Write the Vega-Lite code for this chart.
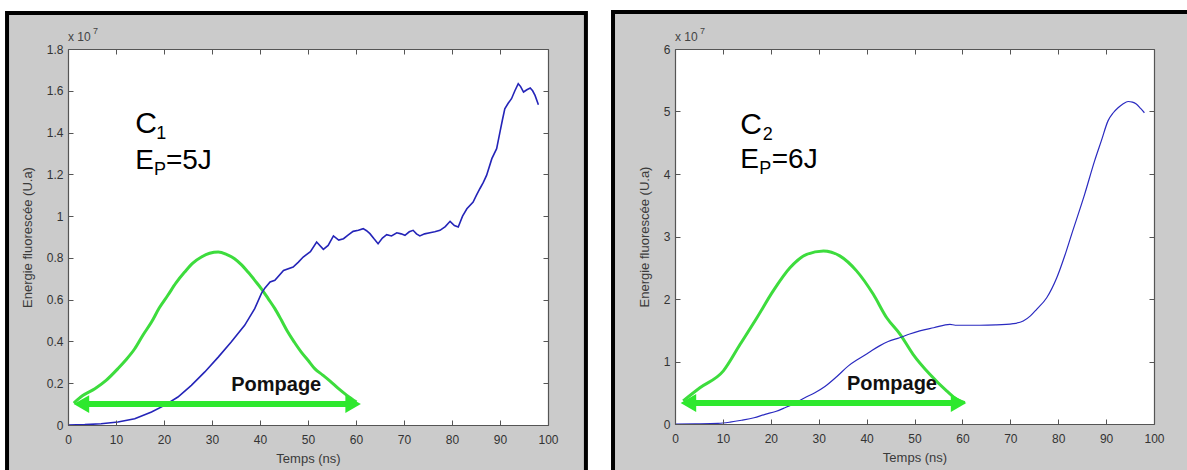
{
  "$schema": "https://vega.github.io/schema/vega-lite/v6.json",
  "background": "white",
  "padding": {"left": 5, "top": 9, "right": 0, "bottom": 0},
  "spacing": 23,
  "config": {
    "font": "Liberation Sans",
    "view": {"stroke": null},
    "axis": {
      "grid": false,
      "tickSize": -5,
      "domainColor": "#555555",
      "tickColor": "#555555",
      "domainWidth": 1.2,
      "labelFont": "Liberation Sans",
      "labelFontSize": 12,
      "labelColor": "#333333",
      "titleFont": "Liberation Sans",
      "titleFontSize": 13,
      "titleFontWeight": "normal",
      "titleColor": "#3a3a3a",
      "labelFlush": false,
      "labelOverlap": false
    }
  },
  "datasets": {
    "one": [{"k": 1}],
    "blue1": [
      {"t":0,"v":0},{"t":3.5,"v":0.002},{"t":6.9,"v":0.006},{"t":10.4,"v":0.014},{"t":13.9,"v":0.03},{"t":17.4,"v":0.062},{"t":20.1,"v":0.094},{"t":22.9,"v":0.134},{"t":25.7,"v":0.19},{"t":28.5,"v":0.254},{"t":31.3,"v":0.325},{"t":34,"v":0.397},{"t":36.8,"v":0.477},{"t":38.9,"v":0.557},{"t":40.3,"v":0.63},{"t":41,"v":0.655},{"t":42.1,"v":0.685},{"t":43.1,"v":0.693},{"t":44.9,"v":0.74},{"t":46.9,"v":0.756},{"t":48,"v":0.78},{"t":49,"v":0.804},{"t":50.5,"v":0.83},{"t":51.8,"v":0.876},{"t":53.2,"v":0.841},{"t":54.2,"v":0.86},{"t":55.3,"v":0.905},{"t":56.4,"v":0.885},{"t":57.4,"v":0.892},{"t":58.4,"v":0.91},{"t":59.4,"v":0.927},{"t":60.5,"v":0.932},{"t":61.5,"v":0.94},{"t":62.2,"v":0.93},{"t":62.9,"v":0.916},{"t":63.8,"v":0.89},{"t":64.6,"v":0.868},{"t":65.5,"v":0.895},{"t":66.4,"v":0.911},{"t":67.4,"v":0.905},{"t":68.5,"v":0.92},{"t":69.4,"v":0.915},{"t":70.2,"v":0.908},{"t":71.1,"v":0.925},{"t":71.9,"v":0.932},{"t":72.6,"v":0.915},{"t":73.3,"v":0.905},{"t":74.3,"v":0.915},{"t":75.4,"v":0.92},{"t":76.4,"v":0.925},{"t":77.5,"v":0.932},{"t":78.6,"v":0.95},{"t":79.6,"v":0.975},{"t":80.5,"v":0.955},{"t":81.3,"v":0.948},{"t":82.2,"v":1.0},{"t":83.1,"v":1.035},{"t":84.4,"v":1.067},{"t":85.1,"v":1.1},{"t":85.8,"v":1.131},{"t":86.5,"v":1.16},{"t":87.2,"v":1.195},{"t":88.3,"v":1.275},{"t":89.3,"v":1.323},{"t":90,"v":1.403},{"t":90.5,"v":1.46},{"t":91,"v":1.514},{"t":91.7,"v":1.54},{"t":92.4,"v":1.562},{"t":93.1,"v":1.6},{"t":93.8,"v":1.634},{"t":94.3,"v":1.62},{"t":94.9,"v":1.594},{"t":95.6,"v":1.605},{"t":96.3,"v":1.613},{"t":96.8,"v":1.6},{"t":97.3,"v":1.578},{"t":98,"v":1.533}
    ],
    "green1": [
      {"t":1.2,"v":0.105},{"t":3,"v":0.14},{"t":5.6,"v":0.174},{"t":8,"v":0.215},{"t":10.4,"v":0.27},{"t":12,"v":0.31},{"t":13.9,"v":0.365},{"t":15.6,"v":0.43},{"t":17.4,"v":0.493},{"t":19,"v":0.56},{"t":20.8,"v":0.621},{"t":22.5,"v":0.68},{"t":24.3,"v":0.732},{"t":26,"v":0.775},{"t":27.8,"v":0.804},{"t":29.5,"v":0.822},{"t":31.3,"v":0.828},{"t":33,"v":0.817},{"t":34.7,"v":0.796},{"t":36,"v":0.77},{"t":37.5,"v":0.732},{"t":39,"v":0.69},{"t":40.3,"v":0.652},{"t":41.7,"v":0.605},{"t":43.1,"v":0.557},{"t":44.5,"v":0.5},{"t":45.8,"v":0.445},{"t":47.2,"v":0.395},{"t":48.6,"v":0.349},{"t":50,"v":0.31},{"t":51.4,"v":0.27},{"t":53,"v":0.24},{"t":54.6,"v":0.21},{"t":56.3,"v":0.175},{"t":58.1,"v":0.142},{"t":60.1,"v":0.11}
    ],
    "blue2": [
      {"t":0,"v":0},{"t":4.2,"v":0.003},{"t":9,"v":0.01},{"t":11.5,"v":0.03},{"t":13.9,"v":0.06},{"t":16.5,"v":0.1},{"t":18.8,"v":0.155},{"t":21,"v":0.2},{"t":22.95,"v":0.26},{"t":25,"v":0.33},{"t":27.1,"v":0.42},{"t":29.2,"v":0.5},{"t":31.3,"v":0.6},{"t":33.8,"v":0.76},{"t":36.2,"v":0.93},{"t":38.3,"v":1.04},{"t":40.4,"v":1.14},{"t":42.7,"v":1.25},{"t":44.5,"v":1.32},{"t":46.9,"v":1.38},{"t":49,"v":1.44},{"t":51.1,"v":1.49},{"t":54,"v":1.54},{"t":57.4,"v":1.595},{"t":58.5,"v":1.58},{"t":60,"v":1.58},{"t":63.6,"v":1.58},{"t":67,"v":1.585},{"t":70.6,"v":1.605},{"t":72.7,"v":1.648},{"t":74.2,"v":1.73},{"t":75.5,"v":1.835},{"t":77.6,"v":2.02},{"t":79.7,"v":2.34},{"t":81.4,"v":2.7},{"t":82.8,"v":3.035},{"t":85.5,"v":3.67},{"t":87.6,"v":4.21},{"t":89,"v":4.53},{"t":90.4,"v":4.85},{"t":91.5,"v":4.98},{"t":92.5,"v":5.06},{"t":93.5,"v":5.12},{"t":94.6,"v":5.16},{"t":95.5,"v":5.15},{"t":96.3,"v":5.12},{"t":97.2,"v":5.05},{"t":98,"v":4.98}
    ],
    "green2": [
      {"t":1.7,"v":0.37},{"t":5.2,"v":0.58},{"t":10.1,"v":0.85},{"t":13.6,"v":1.275},{"t":17.1,"v":1.7},{"t":20.5,"v":2.13},{"t":24,"v":2.5},{"t":27.5,"v":2.715},{"t":31,"v":2.77},{"t":34.4,"v":2.69},{"t":37.9,"v":2.45},{"t":41.4,"v":2.075},{"t":44.2,"v":1.7},{"t":47,"v":1.435},{"t":49.7,"v":1.115},{"t":53.2,"v":0.795},{"t":56.7,"v":0.53},{"t":58.8,"v":0.395},{"t":60.5,"v":0.34}
    ],
    "big1": [{"x":14.0,"y":1.227,"s":"E"},{"x":20.4,"y":1.227,"s":"=5J"}],
    "sub1": [{"x":18.4,"y":1.371,"s":"1"},{"x":17.9,"y":1.195,"s":"P"}],
    "big2": [{"x":13.6,"y":4.1,"s":"E"},{"x":20.2,"y":4.1,"s":"=6J"}],
    "sub2": [{"x":18.3,"y":4.55,"s":"2"},{"x":17.6,"y":4.0,"s":"P"}]
  },
  "hconcat": [
    {
      "width": 480,
      "height": 376,
      "resolve": {"axis": {"x": "independent", "y": "independent"}},
      "layer": [
        {
          "data": {"name": "one"},
          "mark": {"type": "rect", "fill": "#cbcbcb", "stroke": "#000000", "strokeWidth": 4, "clip": false},
          "encoding": {
            "x": {"datum": -12.7, "type": "quantitative", "scale": {"domain": [0, 100]}, "axis": {"orient": "top", "values": [0,10,20,30,40,50,60,70,80,90,100], "labels": false, "title": null, "zindex": 1}},
            "x2": {"datum": 107.9},
            "y": {"datum": 1.972, "type": "quantitative", "scale": {"domain": [0, 1.8]}, "axis": {"orient": "right", "values": [0,0.2,0.4,0.6,0.8,1,1.2,1.4,1.6,1.8], "labels": false, "title": null, "zindex": 1}},
            "y2": {"datum": -0.3}
          }
        },
        {
          "data": {"name": "one"},
          "mark": {"type": "rect", "fill": "white"},
          "encoding": {
            "x": {"datum": 0, "type": "quantitative", "scale": {"domain": [0, 100]}, "axis": {"orient": "bottom", "values": [0,10,20,30,40,50,60,70,80,90,100], "format": "d", "title": "Temps (ns)", "labelPadding": 14, "titlePadding": 7, "zindex": 1}},
            "x2": {"datum": 100},
            "y": {"datum": 0, "type": "quantitative", "scale": {"domain": [0, 1.8]}, "axis": {"orient": "left", "values": [0,0.2,0.4,0.6,0.8,1,1.2,1.4,1.6,1.8], "format": "~g", "title": "Energie fluorescée (U.a)", "labelPadding": 10, "titlePadding": 12, "zindex": 1}},
            "y2": {"datum": 1.8}
          }
        },
        {
          "data": {"name": "green1"},
          "mark": {"type": "line", "color": "#3ddc3d", "strokeWidth": 3, "interpolate": "monotone"},
          "encoding": {
            "x": {"field": "t", "type": "quantitative", "scale": {"domain": [0, 100]}, "axis": null},
            "y": {"field": "v", "type": "quantitative", "scale": {"domain": [0, 1.8]}, "axis": null}
          }
        },
        {
          "data": {"name": "blue1"},
          "mark": {"type": "line", "color": "#2424b8", "strokeWidth": 1.6},
          "encoding": {
            "x": {"field": "t", "type": "quantitative", "scale": {"domain": [0, 100]}, "axis": null},
            "y": {"field": "v", "type": "quantitative", "scale": {"domain": [0, 1.8]}, "axis": null}
          }
        },
        {
          "data": {"name": "one"},
          "mark": {"type": "rule", "color": "#2ee82e", "strokeWidth": 6},
          "encoding": {
            "x": {"datum": 3, "type": "quantitative", "scale": {"domain": [0, 100]}, "axis": null},
            "x2": {"datum": 59},
            "y": {"datum": 0.1, "type": "quantitative", "scale": {"domain": [0, 1.8]}, "axis": null}
          }
        },
        {
          "data": {"name": "one"},
          "mark": {"type": "point", "shape": "triangle-left", "filled": true, "color": "#2ee82e", "opacity": 1, "size": 320},
          "encoding": {
            "x": {"datum": 2.8, "type": "quantitative", "scale": {"domain": [0, 100]}, "axis": null},
            "y": {"datum": 0.1, "type": "quantitative", "scale": {"domain": [0, 1.8]}, "axis": null}
          }
        },
        {
          "data": {"name": "one"},
          "mark": {"type": "point", "shape": "triangle-right", "filled": true, "color": "#2ee82e", "opacity": 1, "size": 320},
          "encoding": {
            "x": {"datum": 59.4, "type": "quantitative", "scale": {"domain": [0, 100]}, "axis": null},
            "y": {"datum": 0.1, "type": "quantitative", "scale": {"domain": [0, 1.8]}, "axis": null}
          }
        },
        {
          "data": {"name": "one"},
          "mark": {"type": "text", "text": "Pompage", "fontSize": 20, "fontWeight": "bold", "align": "left", "baseline": "middle", "color": "#111111"},
          "encoding": {
            "x": {"datum": 34.0, "type": "quantitative", "scale": {"domain": [0, 100]}, "axis": null},
            "y": {"datum": 0.19, "type": "quantitative", "scale": {"domain": [0, 1.8]}, "axis": null}
          }
        },
        {
          "data": {"name": "one"},
          "mark": {"type": "text", "text": "C", "fontSize": 30, "align": "left", "baseline": "alphabetic", "color": "#000000"},
          "encoding": {
            "x": {"datum": 14.0, "type": "quantitative", "scale": {"domain": [0, 100]}, "axis": null},
            "y": {"datum": 1.399, "type": "quantitative", "scale": {"domain": [0, 1.8]}, "axis": null}
          }
        },
        {
          "data": {"name": "big1"},
          "mark": {"type": "text", "fontSize": 28, "align": "left", "baseline": "alphabetic", "color": "#000000"},
          "encoding": {
            "x": {"field": "x", "type": "quantitative", "scale": {"domain": [0, 100]}, "axis": null},
            "y": {"field": "y", "type": "quantitative", "scale": {"domain": [0, 1.8]}, "axis": null},
            "text": {"field": "s"}
          }
        },
        {
          "data": {"name": "sub1"},
          "mark": {"type": "text", "fontSize": 18, "align": "left", "baseline": "alphabetic", "color": "#000000"},
          "encoding": {
            "x": {"field": "x", "type": "quantitative", "scale": {"domain": [0, 100]}, "axis": null},
            "y": {"field": "y", "type": "quantitative", "scale": {"domain": [0, 1.8]}, "axis": null},
            "text": {"field": "s"}
          }
        },
        {
          "data": {"name": "one"},
          "mark": {"type": "text", "text": "x 10", "fontSize": 12, "align": "left", "baseline": "alphabetic", "dy": -8, "color": "#444444"},
          "encoding": {
            "x": {"datum": 0, "type": "quantitative", "scale": {"domain": [0, 100]}, "axis": null},
            "y": {"datum": 1.8, "type": "quantitative", "scale": {"domain": [0, 1.8]}, "axis": null}
          }
        },
        {
          "data": {"name": "one"},
          "mark": {"type": "text", "text": "7", "fontSize": 9, "align": "left", "baseline": "alphabetic", "dx": 25, "dy": -15, "color": "#444444"},
          "encoding": {
            "x": {"datum": 0, "type": "quantitative", "scale": {"domain": [0, 100]}, "axis": null},
            "y": {"datum": 1.8, "type": "quantitative", "scale": {"domain": [0, 1.8]}, "axis": null}
          }
        }
      ]
    },
    {
      "width": 479,
      "height": 375,
      "resolve": {"axis": {"x": "independent", "y": "independent"}},
      "layer": [
        {
          "data": {"name": "one"},
          "mark": {"type": "rect", "fill": "#cbcbcb", "stroke": "#000000", "strokeWidth": 4, "clip": false},
          "encoding": {
            "x": {"datum": -12.94, "type": "quantitative", "scale": {"domain": [0, 100]}, "axis": {"orient": "top", "values": [0,10,20,30,40,50,60,70,80,90,100], "labels": false, "title": null, "zindex": 1}},
            "x2": {"datum": 109},
            "y": {"datum": 6.592, "type": "quantitative", "scale": {"domain": [0, 6]}, "axis": {"orient": "right", "values": [0,1,2,3,4,5,6], "labels": false, "title": null, "zindex": 1}},
            "y2": {"datum": -1}
          }
        },
        {
          "data": {"name": "one"},
          "mark": {"type": "rect", "fill": "white"},
          "encoding": {
            "x": {"datum": 0, "type": "quantitative", "scale": {"domain": [0, 100]}, "axis": {"orient": "bottom", "values": [0,10,20,30,40,50,60,70,80,90,100], "format": "d", "title": "Temps (ns)", "labelPadding": 14, "titlePadding": 7, "zindex": 1}},
            "x2": {"datum": 100},
            "y": {"datum": 0, "type": "quantitative", "scale": {"domain": [0, 6]}, "axis": {"orient": "left", "values": [0,1,2,3,4,5,6], "format": "d", "title": "Energie fluorescée (U.a)", "labelPadding": 10, "titlePadding": 12, "zindex": 1}},
            "y2": {"datum": 6}
          }
        },
        {
          "data": {"name": "green2"},
          "mark": {"type": "line", "color": "#3ddc3d", "strokeWidth": 3, "interpolate": "monotone"},
          "encoding": {
            "x": {"field": "t", "type": "quantitative", "scale": {"domain": [0, 100]}, "axis": null},
            "y": {"field": "v", "type": "quantitative", "scale": {"domain": [0, 6]}, "axis": null}
          }
        },
        {
          "data": {"name": "blue2"},
          "mark": {"type": "line", "color": "#2a2ac0", "strokeWidth": 1.2, "interpolate": "monotone"},
          "encoding": {
            "x": {"field": "t", "type": "quantitative", "scale": {"domain": [0, 100]}, "axis": null},
            "y": {"field": "v", "type": "quantitative", "scale": {"domain": [0, 6]}, "axis": null}
          }
        },
        {
          "data": {"name": "one"},
          "mark": {"type": "rule", "color": "#2ee82e", "strokeWidth": 6},
          "encoding": {
            "x": {"datum": 3, "type": "quantitative", "scale": {"domain": [0, 100]}, "axis": null},
            "x2": {"datum": 59},
            "y": {"datum": 0.336, "type": "quantitative", "scale": {"domain": [0, 6]}, "axis": null}
          }
        },
        {
          "data": {"name": "one"},
          "mark": {"type": "point", "shape": "triangle-left", "filled": true, "color": "#2ee82e", "opacity": 1, "size": 320},
          "encoding": {
            "x": {"datum": 2.8, "type": "quantitative", "scale": {"domain": [0, 100]}, "axis": null},
            "y": {"datum": 0.336, "type": "quantitative", "scale": {"domain": [0, 6]}, "axis": null}
          }
        },
        {
          "data": {"name": "one"},
          "mark": {"type": "point", "shape": "triangle-right", "filled": true, "color": "#2ee82e", "opacity": 1, "size": 320},
          "encoding": {
            "x": {"datum": 59.2, "type": "quantitative", "scale": {"domain": [0, 100]}, "axis": null},
            "y": {"datum": 0.336, "type": "quantitative", "scale": {"domain": [0, 6]}, "axis": null}
          }
        },
        {
          "data": {"name": "one"},
          "mark": {"type": "text", "text": "Pompage", "fontSize": 20, "fontWeight": "bold", "align": "left", "baseline": "middle", "color": "#111111"},
          "encoding": {
            "x": {"datum": 35.9, "type": "quantitative", "scale": {"domain": [0, 100]}, "axis": null},
            "y": {"datum": 0.64, "type": "quantitative", "scale": {"domain": [0, 6]}, "axis": null}
          }
        },
        {
          "data": {"name": "one"},
          "mark": {"type": "text", "text": "C", "fontSize": 30, "align": "left", "baseline": "alphabetic", "color": "#000000"},
          "encoding": {
            "x": {"datum": 13.6, "type": "quantitative", "scale": {"domain": [0, 100]}, "axis": null},
            "y": {"datum": 4.64, "type": "quantitative", "scale": {"domain": [0, 6]}, "axis": null}
          }
        },
        {
          "data": {"name": "big2"},
          "mark": {"type": "text", "fontSize": 28, "align": "left", "baseline": "alphabetic", "color": "#000000"},
          "encoding": {
            "x": {"field": "x", "type": "quantitative", "scale": {"domain": [0, 100]}, "axis": null},
            "y": {"field": "y", "type": "quantitative", "scale": {"domain": [0, 6]}, "axis": null},
            "text": {"field": "s"}
          }
        },
        {
          "data": {"name": "sub2"},
          "mark": {"type": "text", "fontSize": 18, "align": "left", "baseline": "alphabetic", "color": "#000000"},
          "encoding": {
            "x": {"field": "x", "type": "quantitative", "scale": {"domain": [0, 100]}, "axis": null},
            "y": {"field": "y", "type": "quantitative", "scale": {"domain": [0, 6]}, "axis": null},
            "text": {"field": "s"}
          }
        },
        {
          "data": {"name": "one"},
          "mark": {"type": "text", "text": "x 10", "fontSize": 12, "align": "left", "baseline": "alphabetic", "dy": -8, "color": "#444444"},
          "encoding": {
            "x": {"datum": 0, "type": "quantitative", "scale": {"domain": [0, 100]}, "axis": null},
            "y": {"datum": 6, "type": "quantitative", "scale": {"domain": [0, 6]}, "axis": null}
          }
        },
        {
          "data": {"name": "one"},
          "mark": {"type": "text", "text": "7", "fontSize": 9, "align": "left", "baseline": "alphabetic", "dx": 25, "dy": -15, "color": "#444444"},
          "encoding": {
            "x": {"datum": 0, "type": "quantitative", "scale": {"domain": [0, 100]}, "axis": null},
            "y": {"datum": 6, "type": "quantitative", "scale": {"domain": [0, 6]}, "axis": null}
          }
        }
      ]
    }
  ]
}
